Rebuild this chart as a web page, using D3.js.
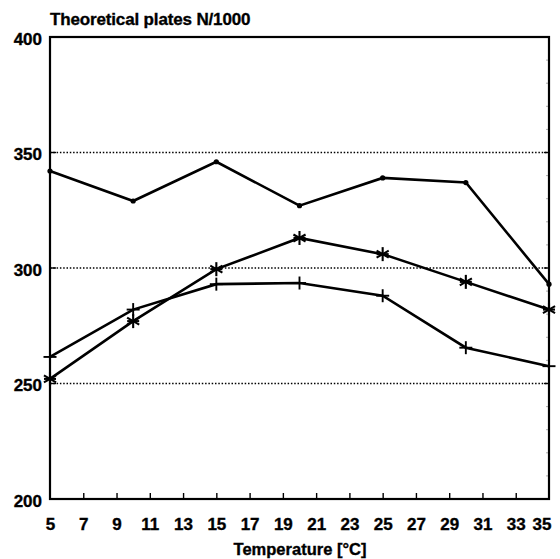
<!DOCTYPE html>
<html>
<head>
<meta charset="utf-8">
<script src="https://cdn.jsdelivr.net/npm/d3@7"></script>
<style>
  html, body { margin: 0; padding: 0; background: #fff; }
  svg { display: block; }
  text { font-family: "Liberation Sans", Arial, sans-serif; font-weight: bold; fill: #000;
         stroke: #000; stroke-width: 0.35px; }
</style>
</head>
<body>
<svg id="chart" width="560" height="559"></svg>
<script>
// Temperatures at which the plate counts were measured
const temperatures = [5, 10, 15, 20, 25, 30, 35];

// Theoretical plates (N/1000) for three columns
const seriesDot      = [342, 329, 346, 327, 339, 337, 293];
const seriesStar     = [252, 277, 299.5, 313, 306, 294, 282];
const seriesPlus     = [261.5, 282, 293, 293.5, 288, 265.5, 257.5];

// Axis ticks
const xTickLabels = [5, 7, 9, 11, 13, 15, 17, 19, 21, 23, 25, 27, 29, 31, 33, 35];
const yTickLabels = [200, 250, 300, 350, 400];
const gridValues  = [250, 300, 350];
const minorYTicks = d3.range(210, 400, 10);

const svg = d3.select("#chart");
const plotLeft = 50, plotRight = 549, plotTop = 37, plotBottom = 499;

const x = d3.scaleLinear().domain([5, 35]).range([plotLeft, plotRight]);
const y = d3.scaleLinear().domain([200, 400]).range([plotBottom, plotTop]);

// Dotted horizontal grid with a short solid stub at each axis
const grid = svg.append("g");
grid.selectAll("line.dot").data(gridValues).join("line")
  .attr("class", "dot")
  .attr("x1", plotLeft).attr("x2", plotRight)
  .attr("y1", d => y(d)).attr("y2", d => y(d))
  .attr("stroke", "#000").attr("stroke-width", 1.3)
  .attr("stroke-dasharray", "1.5,1.8");
grid.selectAll("line.stubL").data(gridValues).join("line")
  .attr("class", "stubL")
  .attr("x1", plotLeft).attr("x2", plotLeft + 6)
  .attr("y1", d => y(d)).attr("y2", d => y(d))
  .attr("stroke", "#000").attr("stroke-width", 1.4);
grid.selectAll("line.stubR").data(gridValues).join("line")
  .attr("class", "stubR")
  .attr("x1", plotRight - 5).attr("x2", plotRight)
  .attr("y1", d => y(d)).attr("y2", d => y(d))
  .attr("stroke", "#000").attr("stroke-width", 1.4);

// Faint minor ticks on the right axis
svg.append("g").selectAll("line").data(minorYTicks.filter(v => !gridValues.includes(v))).join("line")
  .attr("x1", plotRight - 3).attr("x2", plotRight)
  .attr("y1", d => y(d)).attr("y2", d => y(d))
  .attr("stroke", "#999").attr("stroke-width", 0.8);

// Bottom axis: inward ticks at odd temperatures
const xAxis = d3.axisBottom(x).tickValues(xTickLabels).tickSize(0).tickFormat(d3.format("d"));
const gx = svg.append("g").attr("transform", `translate(0,${plotBottom})`).call(xAxis);
gx.attr("font-family", null).attr("font-size", null);
gx.select(".domain").remove();
gx.selectAll(".tick text")
  .attr("y", 31).attr("dy", 0)
  .style("font-size", "17px")
  .attr("text-anchor", d => d === 35 ? "end" : "middle")
  .attr("x", d => d === 35 ? 2 : 0);
gx.selectAll(".tick").filter(d => d !== 5 && d !== 35)
  .append("line").attr("y1", 0).attr("y2", -6)
  .attr("stroke", "#000").attr("stroke-width", 1.4);

// Left axis labels
const yAxis = d3.axisLeft(y).tickValues(yTickLabels).tickSize(0).tickFormat(d3.format("d"));
const gy = svg.append("g").attr("transform", `translate(${plotLeft},0)`).call(yAxis);
gy.attr("font-family", null).attr("font-size", null);
gy.select(".domain").remove();
gy.selectAll(".tick text")
  .attr("x", -8).attr("dy", "0.42em")
  .style("font-size", "17px");

// Frame around the plotting area
svg.append("rect")
  .attr("x", plotLeft).attr("y", plotTop)
  .attr("width", plotRight - plotLeft).attr("height", plotBottom - plotTop)
  .attr("fill", "none").attr("stroke", "#000").attr("stroke-width", 2.2);

// Series lines
const line = d3.line().x((d, i) => x(temperatures[i])).y(d => y(d));
const allSeries = [seriesDot, seriesStar, seriesPlus];
svg.append("g").selectAll("path").data(allSeries).join("path")
  .attr("d", line)
  .attr("fill", "none").attr("stroke", "#000")
  .attr("stroke-width", 2.6).attr("stroke-linejoin", "miter");

// Markers: dots
svg.append("g").selectAll("circle").data(seriesDot).join("circle")
  .attr("cx", (d, i) => x(temperatures[i])).attr("cy", d => y(d))
  .attr("r", 2.6).attr("fill", "#000");

// Markers: asterisks
const star = svg.append("g");
seriesStar.forEach((v, i) => {
  const cx = x(temperatures[i]), cy = y(v), r = 7;
  [0, 60, 120].forEach(a => {
    const rad = (a + 90) * Math.PI / 180;
    star.append("line")
      .attr("x1", cx - r * Math.cos(rad)).attr("y1", cy - r * Math.sin(rad))
      .attr("x2", cx + r * Math.cos(rad)).attr("y2", cy + r * Math.sin(rad))
      .attr("stroke", "#000").attr("stroke-width", 2.1);
  });
  star.append("line")
    .attr("x1", cx - 6).attr("x2", cx + 6).attr("y1", cy).attr("y2", cy)
    .attr("stroke", "#000").attr("stroke-width", 2.1);
});

// Markers: plus signs
const plus = svg.append("g");
seriesPlus.forEach((v, i) => {
  const cx = x(temperatures[i]), cy = y(v), r = 6.5;
  plus.append("line").attr("x1", cx - r).attr("x2", cx + r).attr("y1", cy).attr("y2", cy)
    .attr("stroke", "#000").attr("stroke-width", 1.9);
  plus.append("line").attr("x1", cx).attr("x2", cx).attr("y1", cy - r).attr("y2", cy + r)
    .attr("stroke", "#000").attr("stroke-width", 1.9);
});

// Titles
svg.append("text")
  .attr("x", 50).attr("y", 25)
  .style("font-size", "17px").style("letter-spacing", "-0.15px")
  .text("Theoretical plates N/1000");

svg.append("text")
  .attr("x", (plotLeft + plotRight) / 2 + 0.5).attr("y", 555)
  .attr("text-anchor", "middle")
  .style("font-size", "16.5px")
  .text("Temperature [°C]");
</script>
</body>
</html>
